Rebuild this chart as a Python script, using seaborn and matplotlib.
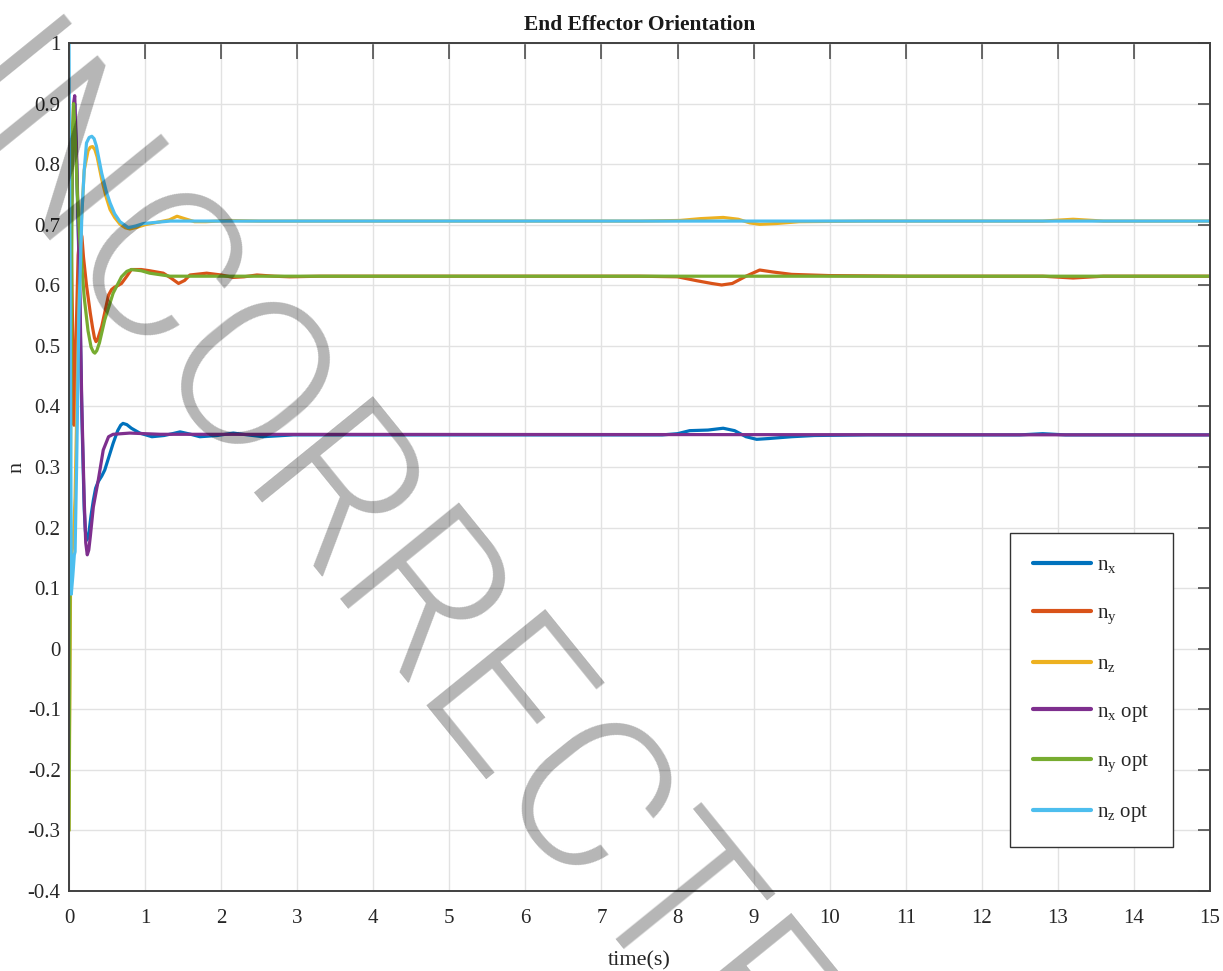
import numpy as np
import pandas as pd
import matplotlib
matplotlib.use("Agg")
import matplotlib.pyplot as plt
import seaborn as sns

# ---- series data (time in s, orientation component) ----
t_nx = [0, 0.02, 0.05, 0.075, 0.10, 0.125, 0.145, 0.17, 0.20, 0.215, 0.23, 0.245, 0.26, 0.29, 0.32, 0.35, 0.385,
        0.43, 0.47, 0.52, 0.58, 0.64, 0.68, 0.71, 0.76, 0.82, 0.93, 1.09, 1.25, 1.36, 1.46, 1.6, 1.72, 1.95,
        2.16, 2.35, 2.55, 2.95, 3.5, 5.0, 7.0, 7.8, 8.0, 8.16, 8.4, 8.6, 8.75, 8.9, 9.04, 9.2, 9.5, 9.8, 10.5,
        12.5, 12.8, 13.1, 15]
v_nx = [0.35, 0.62, 0.85, 0.90, 0.80, 0.67, 0.55, 0.38, 0.23, 0.195, 0.179, 0.182, 0.19, 0.22, 0.245, 0.265,
        0.276, 0.285, 0.295, 0.315, 0.339, 0.360, 0.369, 0.372, 0.370, 0.364, 0.356, 0.350, 0.352, 0.355, 0.358,
        0.354, 0.350, 0.352, 0.356, 0.353, 0.350, 0.353, 0.353, 0.353, 0.353, 0.353, 0.355, 0.360, 0.361, 0.364,
        0.360, 0.350, 0.3457, 0.347, 0.350, 0.352, 0.353, 0.353, 0.355, 0.353, 0.353]

t_ny = [0, 0.02, 0.045, 0.066, 0.09, 0.12, 0.15, 0.17, 0.19, 0.23, 0.28, 0.31, 0.335, 0.355, 0.375, 0.40,
        0.43, 0.47, 0.52, 0.56, 0.6, 0.65, 0.69, 0.76, 0.82, 0.95, 1.06, 1.24, 1.34, 1.44, 1.52, 1.59, 1.81,
        2.0, 2.16, 2.3, 2.47, 2.7, 2.9, 3.3, 4.0, 7.5, 8.0, 8.25, 8.45, 8.58, 8.72, 8.9, 9.08, 9.25, 9.5, 10.0,
        11.0, 12.8, 13.2, 13.6, 15]
v_ny = [0.60, 0.75, 0.55, 0.369, 0.50, 0.65, 0.69, 0.68, 0.647, 0.60, 0.554, 0.530, 0.513, 0.507, 0.510, 0.520,
        0.532, 0.555, 0.584, 0.593, 0.597, 0.600, 0.603, 0.615, 0.626, 0.626, 0.624, 0.620, 0.612, 0.603, 0.608,
        0.617, 0.620, 0.617, 0.613, 0.614, 0.617, 0.615, 0.614, 0.615, 0.615, 0.615, 0.614, 0.6076, 0.603,
        0.6005, 0.603, 0.615, 0.6252, 0.622, 0.618, 0.616, 0.615, 0.615, 0.612, 0.615, 0.615]

t_nz = [0, 0.02, 0.04, 0.057, 0.08, 0.10, 0.12, 0.14, 0.16, 0.20, 0.25, 0.28, 0.31, 0.34, 0.37, 0.43, 0.49,
        0.54, 0.60, 0.67, 0.74, 0.8, 0.9, 1.0, 1.2, 1.32, 1.42, 1.52, 1.65, 1.8, 2.1, 2.5, 7.5, 8.03, 8.3, 8.6,
        8.8, 8.95, 9.08, 9.3, 9.6, 10.5, 12.8, 13.2, 13.6, 15]
v_nz = [-0.30, 0.10, 0.16, 0.18, 0.25, 0.38, 0.50, 0.61, 0.70, 0.79, 0.822, 0.828, 0.829, 0.824, 0.812, 0.775,
        0.745, 0.725, 0.712, 0.701, 0.695, 0.693, 0.696, 0.700, 0.705, 0.708, 0.714, 0.710, 0.705, 0.705, 0.707,
        0.706, 0.706, 0.707, 0.710, 0.712, 0.709, 0.703, 0.7007, 0.702, 0.705, 0.706, 0.706, 0.709, 0.706, 0.706]

t_nx_opt = [0, 0.03, 0.06, 0.075, 0.10, 0.125, 0.145, 0.167, 0.20, 0.22, 0.24, 0.26, 0.28, 0.32, 0.385, 0.45,
            0.52, 0.58, 0.8, 1.2, 15]
v_nx_opt = [0.35, 0.70, 0.90, 0.913, 0.82, 0.68, 0.576, 0.41, 0.245, 0.175, 0.155, 0.163, 0.185, 0.234, 0.2785,
            0.328, 0.350, 0.354, 0.356, 0.354, 0.353]

t_ny_opt = [0, 0.02, 0.045, 0.06, 0.08, 0.11, 0.14, 0.20, 0.25, 0.29, 0.32, 0.34, 0.365, 0.40, 0.47, 0.58,
            0.69, 0.76, 0.82, 0.95, 1.06, 1.33, 15]
v_ny_opt = [-0.30, 0.30, 0.85, 0.90, 0.85, 0.75, 0.68, 0.58, 0.525, 0.498, 0.490, 0.488, 0.492, 0.505, 0.543,
            0.587, 0.614, 0.623, 0.626, 0.624, 0.620, 0.615, 0.615]

t_nz_opt = [0, 0.015, 0.03, 0.05, 0.07, 0.08, 0.10, 0.13, 0.17, 0.20, 0.23, 0.265, 0.30, 0.33, 0.36, 0.43,
            0.49, 0.54, 0.60, 0.67, 0.78, 0.88, 0.98, 1.33, 15]
v_nz_opt = [1.00, 0.60, 0.09, 0.12, 0.155, 0.16, 0.30, 0.55, 0.72, 0.79, 0.835, 0.844, 0.846, 0.842, 0.830,
            0.785, 0.755, 0.736, 0.718, 0.705, 0.695, 0.698, 0.702, 0.706, 0.706]

labels = [r"$\mathrm{n_x}$", r"$\mathrm{n_y}$", r"$\mathrm{n_z}$",
          r"$\mathrm{n_x}$ opt", r"$\mathrm{n_y}$ opt", r"$\mathrm{n_z}$ opt"]
colors = ["#0072BD", "#D95319", "#EDB120", "#7E2F8E", "#77AC30", "#4DBEEE"]

x_ticks = list(range(0, 16))
y_ticks = [-0.4, -0.3, -0.2, -0.1, 0, 0.1, 0.2, 0.3, 0.4, 0.5, 0.6, 0.7, 0.8, 0.9, 1.0]
y_tick_labels = ["-0.4", "-0.3", "-0.2", "-0.1", "0", "0.1", "0.2", "0.3", "0.4", "0.5", "0.6", "0.7",
                 "0.8", "0.9", "1"]

# ---- long-form table for seaborn ----
series = [(t_nx, v_nx), (t_ny, v_ny), (t_nz, v_nz), (t_nx_opt, v_nx_opt), (t_ny_opt, v_ny_opt),
          (t_nz_opt, v_nz_opt)]
frames = []
for lab, (tt, vv) in zip(labels, series):
    frames.append(pd.DataFrame({"t": tt, "n": vv, "series": lab}))
df = pd.concat(frames, ignore_index=True)

sns.set_theme(style="white")
plt.rcParams["font.family"] = ["Liberation Serif", "DejaVu Serif"]
plt.rcParams["mathtext.fontset"] = "custom"
plt.rcParams["mathtext.rm"] = "Liberation Serif"
plt.rcParams["mathtext.it"] = "Liberation Serif:italic"
plt.rcParams["mathtext.bf"] = "Liberation Serif:bold"

fig = plt.figure(figsize=(12.23, 9.71), dpi=100)
ax = fig.add_axes([69 / 1223, 80 / 971, 1141 / 1223, 848 / 971])

sns.lineplot(data=df, x="t", y="n", hue="series", hue_order=labels, palette=colors,
             estimator=None, sort=False, linewidth=2.3, ax=ax)

ax.set_xlim(0, 15)
ax.set_ylim(-0.4, 1.0)
ax.set_xticks(x_ticks)
ax.set_xticklabels([str(v) for v in x_ticks])
ax.set_yticks(y_ticks)
ax.set_yticklabels(y_tick_labels)

axis_col = "#404040"
for sp in ax.spines.values():
    sp.set_visible(True)
    sp.set_color(axis_col)
    sp.set_linewidth(1.4)
ax.tick_params(axis="both", direction="in", top=True, right=True, color=axis_col, width=1.1,
               labelsize=15, labelcolor="#262626")
ax.tick_params(axis="x", length=11.5, pad=13)
ax.tick_params(axis="y", length=8.6, pad=6)

ax.grid(True, color="#e2e2e2", linewidth=1.0)
ax.set_axisbelow(True)

ax.set_title("End Effector Orientation", fontsize=15.5, fontweight="bold", color="#1a1a1a", pad=9)
ax.set_xlabel("time(s)", fontsize=16, color="#262626", labelpad=17)
ax.set_ylabel("n", fontsize=16, color="#262626", labelpad=1)

handles, labs = ax.get_legend_handles_labels()
leg = ax.legend(handles, labs, loc="upper left", bbox_to_anchor=(0.8247, 0.4222), fontsize=15,
                frameon=True, fancybox=False, framealpha=1, edgecolor="#333333", borderpad=1.1,
                labelspacing=1.35, handlelength=2.8, handletextpad=0.3, borderaxespad=0)
leg.get_frame().set_linewidth(1.0)
for line in leg.get_lines():
    line.set_linewidth(3.0)

# diagonal stamp across the figure
fig.text(325 / 1223, 1 - 608 / 971, "INCORRECTE", rotation=-51, rotation_mode="anchor",
         ha="center", va="baseline", fontsize=155, family=["Roboto", "DejaVu Sans"], fontweight=300,
         color="black", alpha=0.29, zorder=10)

fig.savefig("out.png", dpi=100, facecolor="white")
